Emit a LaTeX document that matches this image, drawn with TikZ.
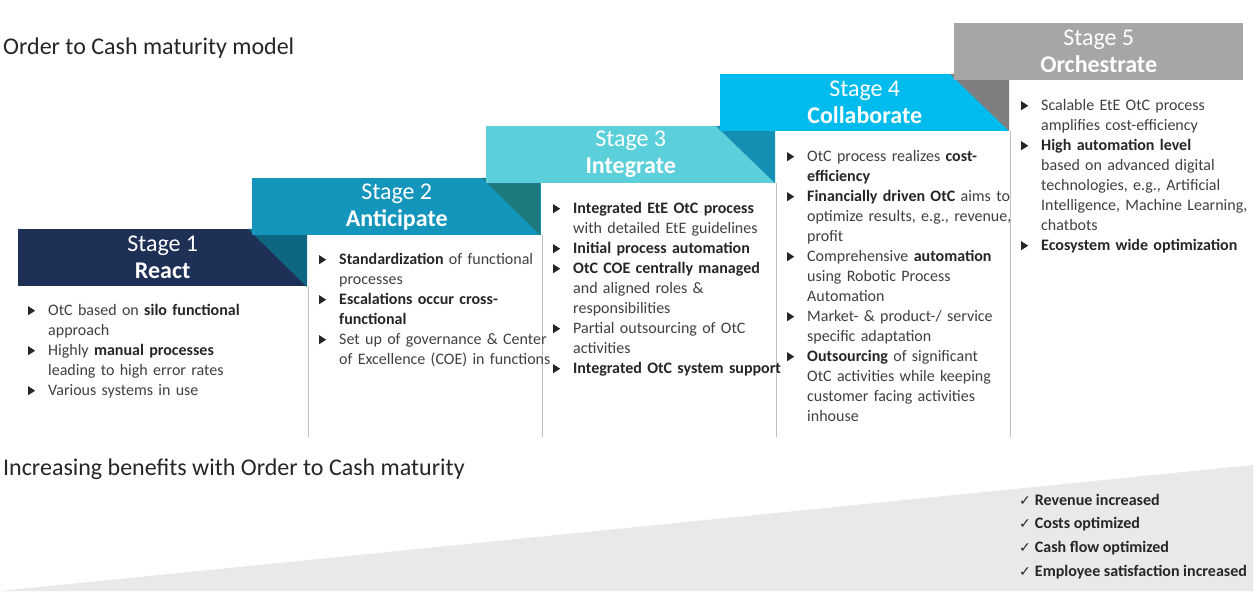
\documentclass[tikz,border=0pt]{standalone}
\usepackage{fontspec}
\setmainfont{Carlito}
\newfontfamily\symf{DejaVu Sans}
\definecolor{sone}{HTML}{1F3057}
\definecolor{stwo}{HTML}{1496BC}
\definecolor{sthree}{HTML}{5BCFDA}
\definecolor{sfour}{HTML}{00BCEE}
\definecolor{sfive}{HTML}{A6A6A6}
\definecolor{shtwo}{HTML}{0E6680}
\definecolor{shthree}{HTML}{1D7A7E}
\definecolor{shfour}{HTML}{1590B4}
\definecolor{shfive}{HTML}{7F7F7F}
\definecolor{txt}{HTML}{404040}
\definecolor{bld}{HTML}{262626}
\definecolor{wedge}{HTML}{E9E9EA}
\newcommand\tri{\tikz[baseline=0pt]\fill[bld] (0,0)--(0,9pt)--(7pt,4.5pt)--cycle;}
\newcommand\bitem{\par\hangindent=21pt\hangafter=1\noindent\makebox[21pt][l]{\hspace{1pt}\tri}}
\newcommand\B[1]{{\bfseries\color{bld}#1}}
\newcommand\nohy{\hyphenpenalty=10000\relax}
\begin{document}
\begin{tikzpicture}[x=1pt,y=-1pt,
  stagebox/.style={anchor=north west,minimum width=289pt,minimum height=57pt,inner sep=0pt,text=white,align=center,font=\fontsize{24}{29}\selectfont},
  body/.style={anchor=north west,text width=234pt,inner sep=0pt,align=left,text=txt,font=\fontsize{16}{20}\selectfont},
  heading/.style={anchor=west,inner sep=0pt,text=bld,font=\fontsize{24}{28}\selectfont},
  divider/.style={draw=black!25,line width=0.7pt},
  check/.style={anchor=west,inner sep=0pt,text=bld,font=\bfseries\fontsize{16}{18}\selectfont}]
\useasboundingbox (0,0) rectangle (1258,596);
\fill[white] (0,0) rectangle (1258,596);
% wedge
\fill[wedge] (0,591) -- (1253,465) -- (1253,591) -- cycle;
% titles
\node[heading] (title) at (3,48) {Order to Cash maturity model};
\node[heading] (title2) at (3,469) {Increasing benefits with Order to Cash maturity};
% dividers
\draw[divider] (308,287) -- (308,437);
\draw[divider] (542,235) -- (542,437);
\draw[divider] (776,183) -- (776,437);
\draw[divider] (1010,131) -- (1010,437);
% stage boxes with fold shadows
\node[stagebox,fill=sone] (s1) at (18,229) {Stage 1\\[-2pt]\bfseries React};
\fill[shtwo] (248,229) -- (307,229) -- (307,287) -- cycle;
\node[stagebox,fill=stwo] (s2) at (252,178) {Stage 2\\[-2pt]\bfseries Anticipate};
\fill[shthree] (482,178) -- (540,178) -- (540,235) -- cycle;
\node[stagebox,fill=sthree] (s3) at (486,126) {Stage 3\\[-2pt]\bfseries Integrate};
\fill[shfour] (716,126) -- (775,126) -- (775,183) -- cycle;
\node[stagebox,fill=sfour] (s4) at (720,74) {Stage 4\\[-2pt]\bfseries Collaborate};
\fill[shfive] (950,74) -- (1009,74) -- (1009,131) -- cycle;
\node[stagebox,fill=sfive] (s5) at (954,23) {Stage 5\\[-2pt]\bfseries Orchestrate};
% bodies
\node[body] (b1) at (27,295) {\nohy
\bitem OtC based on \B{silo functional} approach
\bitem Highly \B{manual processes} leading to high error rates
\bitem Various systems in use\par};
\node[body] (b2) at (318,244) {\nohy
\bitem \B{Standardization} of functional processes
\bitem \B{Escalations occur cross-\hspace{0pt}functional}
\bitem Set up of governance \& Center of Excellence (COE) in functions\par};
\node[body] (b3) at (552,193) {\nohy
\bitem \B{Integrated EtE OtC process} with detailed EtE guidelines
\bitem \B{Initial process automation}
\bitem \B{OtC COE centrally managed} and aligned roles \& responsibilities
\bitem Partial outsourcing of OtC activities
\bitem \B{Integrated OtC system support}\par};
\node[body] (b4) at (786,141) {\nohy
\bitem OtC process realizes \B{cost-\hspace{0pt}efficiency}
\bitem \B{Financially driven OtC} aims to optimize results, e.g., revenue, profit
\bitem Comprehensive \B{automation} using Robotic Process Automation
\bitem Market- \& product-/ service specific adaptation
\bitem \B{Outsourcing} of significant OtC activities while keeping customer facing activities inhouse\par};
\node[body] (b5) at (1020,90) {\nohy
\bitem Scalable EtE OtC process amplifies cost-efficiency
\bitem \B{High automation level} based on advanced digital technologies, e.g., Artificial Intelligence, Machine Learning, chatbots
\bitem \B{Ecosystem wide optimization}\par};
% checks
\foreach \t/\yy [count=\i] in {Revenue increased/500,Costs optimized/524,Cash flow optimized/548,Employee satisfaction increased/572}
  \node[check] (c\i) at (1019,\yy) {{\symf\mdseries\fontsize{14}{16}\selectfont ✓}\hspace{4pt}\t};
\end{tikzpicture}
\end{document}
